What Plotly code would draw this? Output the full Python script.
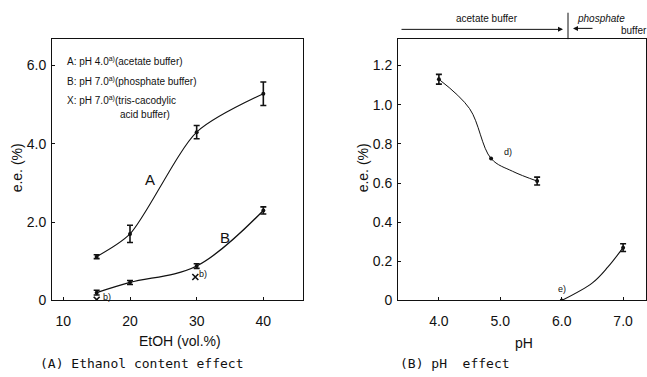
import plotly.graph_objects as go

# ---------------- data ----------------
# (A) Ethanol content effect
ethanol = [15, 20, 30, 40]
ee_A = [1.12, 1.70, 4.30, 5.28]
err_A = [0.05, 0.22, 0.17, 0.30]
ee_B = [0.20, 0.46, 0.88, 2.30]
err_B = [0.06, 0.05, 0.06, 0.09]
ethanol_X = [15, 29.8]
ee_X = [0.02, 0.60]

# (B) pH effect
ph_acetate = [4.0, 5.6]
ee_acetate = [1.13, 0.61]
err_acetate = [0.025, 0.02]
ph_d = [4.85]
ee_d = [0.725]
ph_e = [6.0]
ee_e = [0.0]
ph_phosphate = [7.0]
ee_phosphate = [0.27]
err_phosphate = [0.02]
# fitted curves
curve_acetate_ph = [4.0, 4.5, 4.85, 5.2, 5.6]
curve_acetate_ee = [1.13, 0.98, 0.725, 0.66, 0.61]
curve_phos_ph = [6.0, 6.5, 6.75, 7.0]
curve_phos_ee = [0.0, 0.09, 0.17, 0.27]

x_ticks_A = [10, 20, 30, 40]
x_ticklabels_A = ["10", "20", "30", "40"]
y_ticks_A = [0, 2, 4, 6]
y_ticklabels_A = ["0", "2.0", "4.0", "6.0"]
x_ticks_B = [4, 5, 6, 7]
x_ticklabels_B = ["4.0", "5.0", "6.0", "7.0"]
y_ticks_B = [0, 0.2, 0.4, 0.6, 0.8, 1.0, 1.2]
y_ticklabels_B = ["0", "0.2", "0.4", "0.6", "0.8", "1.0", "1.2"]

# ---------------- layout helpers ----------------
W, H = 647, 377
def px(x):
    return x / W
def py(y):
    return 1 - y / H

FONT = "Liberation Sans, Arial, sans-serif"
MONO = "DejaVu Sans Mono, monospace"
BLK = "#111111"

fig = go.Figure()

eb = lambda arr: dict(type="data", array=arr, visible=True, color=BLK, thickness=1.6, width=3)

# Panel A curves
fig.add_trace(go.Scatter(x=ethanol, y=ee_A, mode="lines", line=dict(color=BLK, width=1.1, shape="spline", smoothing=0.75),
                         xaxis="x", yaxis="y", hoverinfo="skip"))
fig.add_trace(go.Scatter(x=ethanol, y=ee_B, mode="lines", line=dict(color=BLK, width=1.3, shape="spline", smoothing=1.0),
                         xaxis="x", yaxis="y", hoverinfo="skip"))
fig.add_trace(go.Scatter(x=ethanol, y=ee_A, mode="markers", marker=dict(color=BLK, size=4),
                         error_y=eb(err_A), xaxis="x", yaxis="y"))
fig.add_trace(go.Scatter(x=ethanol, y=ee_B, mode="markers", marker=dict(color=BLK, size=4),
                         error_y=eb(err_B), xaxis="x", yaxis="y"))
fig.add_trace(go.Scatter(x=ethanol_X, y=ee_X, mode="markers", marker=dict(color=BLK, size=6, symbol="x-thin", line=dict(width=1.6, color=BLK)),
                         xaxis="x", yaxis="y"))

# Panel B curves
fig.add_trace(go.Scatter(x=curve_acetate_ph, y=curve_acetate_ee, mode="lines", line=dict(color=BLK, width=1.0, shape="spline", smoothing=1.0),
                         xaxis="x2", yaxis="y2", hoverinfo="skip"))
fig.add_trace(go.Scatter(x=curve_phos_ph, y=curve_phos_ee, mode="lines", line=dict(color=BLK, width=1.1, shape="spline", smoothing=1.0),
                         xaxis="x2", yaxis="y2", hoverinfo="skip"))
fig.add_trace(go.Scatter(x=ph_acetate, y=ee_acetate, mode="markers", marker=dict(color=BLK, size=4),
                         error_y=eb(err_acetate), xaxis="x2", yaxis="y2"))
fig.add_trace(go.Scatter(x=ph_phosphate, y=ee_phosphate, mode="markers", marker=dict(color=BLK, size=4),
                         error_y=eb(err_phosphate), xaxis="x2", yaxis="y2"))
fig.add_trace(go.Scatter(x=ph_d + ph_e, y=ee_d + ee_e, mode="markers", marker=dict(color=BLK, size=4),
                         xaxis="x2", yaxis="y2"))

ax_common = dict(showline=True, linecolor=BLK, linewidth=1, mirror=True, showgrid=False, zeroline=False,
                 ticks="inside", ticklen=3, tickcolor=BLK, tickfont=dict(family=FONT, size=14, color=BLK),
                 tickmode="array", fixedrange=True)

ydom = [py(307), py(40)]
fig.update_layout(
    width=W, height=H, margin=dict(l=0, r=0, t=0, b=0),
    paper_bgcolor="white", plot_bgcolor="white", showlegend=False,
    xaxis=dict(ax_common, domain=[px(52), px(303)], range=[8.30, 45.95], anchor="y",
               tickvals=x_ticks_A, ticktext=x_ticklabels_A, ticklabelstandoff=8),
    yaxis=dict(ax_common, domain=ydom, range=[0, 6.675], anchor="x",
               tickvals=y_ticks_A, ticktext=y_ticklabels_A, ticklabelstandoff=2),
    xaxis2=dict(ax_common, domain=[px(398), px(646)], range=[3.334, 7.373], anchor="y2",
                tickvals=x_ticks_B, ticktext=x_ticklabels_B, ticklabelstandoff=8),
    yaxis2=dict(ax_common, domain=ydom, range=[0, 1.335], anchor="x2",
                tickvals=y_ticks_B, ticktext=y_ticklabels_B, ticklabelstandoff=2),
)

ann = []
def A(text, x, y, size=14, font=FONT, xanchor="center", yanchor="middle", angle=0, xref="paper", yref="paper", italic=False):
    ann.append(dict(text=text, x=x, y=y, xref=xref, yref=yref, showarrow=False, xanchor=xanchor, yanchor=yanchor,
                    textangle=angle, font=dict(family=font, size=size, color=BLK, style="italic" if italic else "normal")))

# axis titles & captions
A("EtOH (vol.%)", px(180), py(348), 14)
A("pH", px(524), py(350), 14)
A("e.e. (%)", px(17), py(172), 14, angle=-90)
A("e.e. (%)", px(363), py(172), 14, angle=-90)
A("(A) Ethanol content effect", px(38), py(371), 13, font=MONO, xanchor="left")
A("(B) pH  effect", px(398), py(371), 13, font=MONO, xanchor="left")

# legend text panel A
A("A: pH 4.0<sup>a)</sup>(acetate buffer)", px(65), py(62), 10, xanchor="left")
A("B: pH 7.0<sup>a)</sup>(phosphate buffer)", px(65), py(83), 10, xanchor="left")
A("X: pH 7.0<sup>a)</sup>(tris-cacodylic", px(65), py(102), 10, xanchor="left")
A("acid buffer)", px(118), py(117), 10, xanchor="left")

# curve labels
A("A", 23.0, 3.1, 15, xref="x", yref="y")
A("B", 34.25, 1.62, 15, xref="x", yref="y")
A("b)", 31.0, 0.68, 9, xref="x", yref="y")
A("b)", 16.6, 0.09, 9, xref="x", yref="y")
A("d)", 5.12, 0.76, 9, xref="x2", yref="y2")
A("e)", 6.0, 0.06, 9, xref="x2", yref="y2")

# top buffer annotations
A("acetate buffer", px(487), py(19), 10)
A("phosphate", px(601), py(19), 10, italic=True)
A("buffer", px(619), py(31), 10, xanchor="left")

# arrows (pixel offsets)
ann.append(dict(x=px(563), y=py(30), ax=-163, ay=0, xref="paper", yref="paper", axref="pixel", ayref="pixel",
                showarrow=True, arrowhead=2, arrowsize=1, arrowwidth=1, arrowcolor=BLK, text=""))
ann.append(dict(x=px(573), y=py(29), ax=21, ay=0, xref="paper", yref="paper", axref="pixel", ayref="pixel",
                showarrow=True, arrowhead=2, arrowsize=1, arrowwidth=1, arrowcolor=BLK, text=""))
fig.update_layout(annotations=ann)

shapes = [
    dict(type="line", xref="paper", yref="paper", x0=px(568), x1=px(568), y0=py(13), y1=py(40), line=dict(color=BLK, width=1)),
]
fig.update_layout(shapes=shapes)

fig.write_html("out.html")
